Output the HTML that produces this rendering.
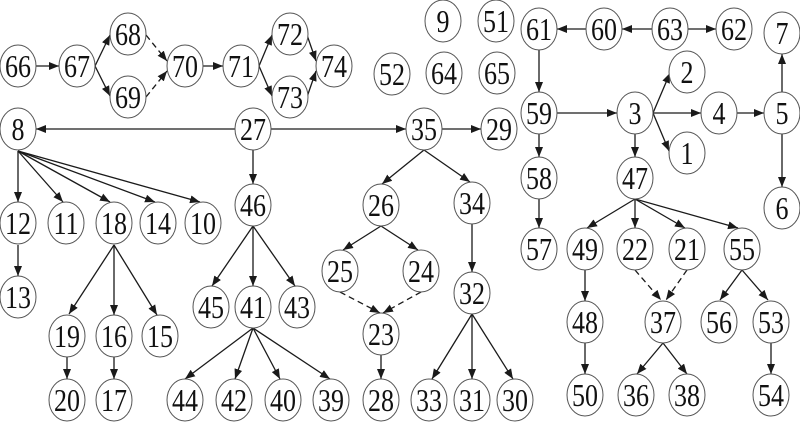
<!DOCTYPE html>
<html><head><meta charset="utf-8"><style>
html,body{margin:0;padding:0;background:#fff;}
svg{display:block;}
text{font-family:"Liberation Serif","Times New Roman",serif;font-size:26px;fill:#111;text-anchor:middle;}
ellipse{fill:#fff;stroke:#555;stroke-width:1;}
line{stroke:#1a1a1a;stroke-width:1.3;}
line.d{stroke-dasharray:6,4;}
</style></head><body>
<svg width="800" height="431" viewBox="0 0 800 431" xmlns="http://www.w3.org/2000/svg">
<defs>
<marker id="a" markerUnits="userSpaceOnUse" markerWidth="10" markerHeight="8" refX="10" refY="4" orient="auto">
<path d="M0,0 L10,4 L0,8 z" fill="#1a1a1a"/>
</marker>
</defs>
<g marker-end="url(#a)">
<line x1="36" y1="66" x2="59" y2="66"/>
<line x1="95" y1="66" x2="110" y2="35"/>
<line x1="95" y1="66" x2="110" y2="96"/>
<line class="d" x1="146" y1="35" x2="167" y2="61"/>
<line class="d" x1="146" y1="97" x2="167" y2="71"/>
<line x1="203" y1="66" x2="223" y2="66"/>
<line x1="259" y1="66" x2="272" y2="35"/>
<line x1="259" y1="66" x2="272" y2="96"/>
<line x1="307" y1="35" x2="316" y2="61"/>
<line x1="307" y1="97" x2="316" y2="71"/>
<line x1="235" y1="129" x2="36" y2="129"/>
<line x1="271" y1="129" x2="406" y2="129"/>
<line x1="253" y1="150" x2="253" y2="184"/>
<line x1="442" y1="129" x2="481" y2="129"/>
<line x1="424" y1="150" x2="382" y2="184"/>
<line x1="424" y1="150" x2="470" y2="182"/>
<line x1="18" y1="151" x2="18" y2="202"/>
<line x1="18" y1="151" x2="63" y2="202"/>
<line x1="18" y1="151" x2="110" y2="202"/>
<line x1="18" y1="151" x2="155" y2="202"/>
<line x1="18" y1="151" x2="200" y2="202"/>
<line x1="18" y1="245" x2="18" y2="276"/>
<line x1="114" y1="245" x2="69" y2="314"/>
<line x1="114" y1="245" x2="114" y2="315"/>
<line x1="114" y1="245" x2="157" y2="315"/>
<line x1="67" y1="357" x2="67" y2="379"/>
<line x1="114" y1="357" x2="114" y2="379"/>
<line x1="253" y1="226" x2="212" y2="286"/>
<line x1="253" y1="226" x2="253" y2="286"/>
<line x1="253" y1="226" x2="295" y2="286"/>
<line x1="253" y1="328" x2="185" y2="379"/>
<line x1="253" y1="328" x2="235" y2="379"/>
<line x1="253" y1="328" x2="280" y2="379"/>
<line x1="253" y1="328" x2="330" y2="379"/>
<line x1="381" y1="226" x2="343" y2="250"/>
<line x1="381" y1="226" x2="418" y2="250"/>
<line class="d" x1="340" y1="292" x2="380" y2="313"/>
<line class="d" x1="421" y1="292" x2="383" y2="313"/>
<line x1="381" y1="355" x2="381" y2="379"/>
<line x1="472" y1="224" x2="472" y2="272"/>
<line x1="472" y1="314" x2="432" y2="379"/>
<line x1="472" y1="314" x2="472" y2="379"/>
<line x1="472" y1="314" x2="513" y2="379"/>
<line x1="652" y1="29" x2="622" y2="29"/>
<line x1="586" y1="29" x2="557" y2="29"/>
<line x1="688" y1="29" x2="716" y2="29"/>
<line x1="539" y1="50" x2="539" y2="92"/>
<line x1="557" y1="113" x2="617" y2="113"/>
<line x1="539" y1="134" x2="539" y2="157"/>
<line x1="539" y1="199" x2="539" y2="228"/>
<line x1="653" y1="113" x2="670" y2="73"/>
<line x1="653" y1="113" x2="701" y2="113"/>
<line x1="653" y1="113" x2="669" y2="151"/>
<line x1="737" y1="113" x2="764" y2="113"/>
<line x1="782" y1="92" x2="782" y2="54"/>
<line x1="782" y1="134" x2="782" y2="187"/>
<line x1="635" y1="134" x2="635" y2="157"/>
<line x1="635" y1="199" x2="587" y2="228"/>
<line x1="635" y1="199" x2="635" y2="228"/>
<line x1="635" y1="199" x2="685" y2="228"/>
<line x1="635" y1="199" x2="738" y2="228"/>
<line x1="585" y1="270" x2="585" y2="301"/>
<line class="d" x1="635" y1="270" x2="661" y2="300"/>
<line class="d" x1="687" y1="270" x2="666" y2="300"/>
<line x1="663" y1="343" x2="637" y2="374"/>
<line x1="663" y1="343" x2="687" y2="374"/>
<line x1="585" y1="343" x2="585" y2="374"/>
<line x1="742" y1="270" x2="720" y2="300"/>
<line x1="742" y1="270" x2="768" y2="300"/>
<line x1="771" y1="343" x2="771" y2="374"/>
</g>

<g font-family="'Liberation Serif', 'Times New Roman', serif" font-size="26">
<ellipse cx="18" cy="66" rx="18" ry="21"/><text transform="translate(18,77) scale(1,1.2)">66</text>
<ellipse cx="77" cy="66" rx="18" ry="21"/><text transform="translate(77,77) scale(1,1.2)">67</text>
<ellipse cx="128" cy="34" rx="18" ry="21"/><text transform="translate(128,45) scale(1,1.2)">68</text>
<ellipse cx="128" cy="97" rx="18" ry="21"/><text transform="translate(128,108) scale(1,1.2)">69</text>
<ellipse cx="185" cy="66" rx="18" ry="21"/><text transform="translate(185,77) scale(1,1.2)">70</text>
<ellipse cx="241" cy="66" rx="18" ry="21"/><text transform="translate(241,77) scale(1,1.2)">71</text>
<ellipse cx="290" cy="34" rx="18" ry="21"/><text transform="translate(290,45) scale(1,1.2)">72</text>
<ellipse cx="290" cy="97" rx="18" ry="21"/><text transform="translate(290,108) scale(1,1.2)">73</text>
<ellipse cx="334" cy="66" rx="18" ry="21"/><text transform="translate(334,77) scale(1,1.2)">74</text>

<ellipse cx="443" cy="21" rx="18" ry="21"/><text transform="translate(443,32) scale(1,1.2)">9</text>
<ellipse cx="496" cy="21" rx="18" ry="21"/><text transform="translate(496,32) scale(1,1.2)">51</text>
<ellipse cx="392" cy="74" rx="18" ry="21"/><text transform="translate(392,85) scale(1,1.2)">52</text>
<ellipse cx="444" cy="73" rx="18" ry="21"/><text transform="translate(444,84) scale(1,1.2)">64</text>
<ellipse cx="497" cy="73" rx="18" ry="21"/><text transform="translate(497,84) scale(1,1.2)">65</text>

<ellipse cx="539" cy="29" rx="18" ry="21"/><text transform="translate(539,40) scale(1,1.2)">61</text>
<ellipse cx="604" cy="29" rx="18" ry="21"/><text transform="translate(604,40) scale(1,1.2)">60</text>
<ellipse cx="670" cy="29" rx="18" ry="21"/><text transform="translate(670,40) scale(1,1.2)">63</text>
<ellipse cx="734" cy="29" rx="18" ry="21"/><text transform="translate(734,40) scale(1,1.2)">62</text>
<ellipse cx="782" cy="33" rx="18" ry="21"/><text transform="translate(782,44) scale(1,1.2)">7</text>

<ellipse cx="687" cy="72" rx="18" ry="21"/><text transform="translate(687,83) scale(1,1.2)">2</text>
<ellipse cx="539" cy="113" rx="18" ry="21"/><text transform="translate(539,124) scale(1,1.2)">59</text>
<ellipse cx="635" cy="113" rx="18" ry="21"/><text transform="translate(635,124) scale(1,1.2)">3</text>
<ellipse cx="719" cy="113" rx="18" ry="21"/><text transform="translate(719,124) scale(1,1.2)">4</text>
<ellipse cx="782" cy="113" rx="18" ry="21"/><text transform="translate(782,124) scale(1,1.2)">5</text>
<ellipse cx="687" cy="153" rx="18" ry="21"/><text transform="translate(687,164) scale(1,1.2)">1</text>

<ellipse cx="18" cy="129" rx="18" ry="21"/><text transform="translate(18,140) scale(1,1.2)">8</text>
<ellipse cx="253" cy="129" rx="18" ry="21"/><text transform="translate(253,140) scale(1,1.2)">27</text>
<ellipse cx="424" cy="129" rx="18" ry="21"/><text transform="translate(424,140) scale(1,1.2)">35</text>
<ellipse cx="499" cy="129" rx="18" ry="21"/><text transform="translate(499,140) scale(1,1.2)">29</text>

<ellipse cx="253" cy="205" rx="18" ry="21"/><text transform="translate(253,216) scale(1,1.2)">46</text>
<ellipse cx="381" cy="205" rx="18" ry="21"/><text transform="translate(381,216) scale(1,1.2)">26</text>
<ellipse cx="472" cy="203" rx="18" ry="21"/><text transform="translate(472,214) scale(1,1.2)">34</text>
<ellipse cx="539" cy="178" rx="18" ry="21"/><text transform="translate(539,189) scale(1,1.2)">58</text>
<ellipse cx="635" cy="178" rx="18" ry="21"/><text transform="translate(635,189) scale(1,1.2)">47</text>
<ellipse cx="782" cy="208" rx="18" ry="21"/><text transform="translate(782,219) scale(1,1.2)">6</text>

<ellipse cx="18" cy="223" rx="18" ry="21"/><text transform="translate(18,234) scale(1,1.2)">12</text>
<ellipse cx="66" cy="223" rx="18" ry="21"/><text transform="translate(66,234) scale(1,1.2)">11</text>
<ellipse cx="114" cy="223" rx="18" ry="21"/><text transform="translate(114,234) scale(1,1.2)">18</text>
<ellipse cx="158" cy="223" rx="18" ry="21"/><text transform="translate(158,234) scale(1,1.2)">14</text>
<ellipse cx="203" cy="223" rx="18" ry="21"/><text transform="translate(203,234) scale(1,1.2)">10</text>

<ellipse cx="539" cy="249" rx="18" ry="21"/><text transform="translate(539,260) scale(1,1.2)">57</text>
<ellipse cx="585" cy="249" rx="18" ry="21"/><text transform="translate(585,260) scale(1,1.2)">49</text>
<ellipse cx="635" cy="249" rx="18" ry="21"/><text transform="translate(635,260) scale(1,1.2)">22</text>
<ellipse cx="687" cy="249" rx="18" ry="21"/><text transform="translate(687,260) scale(1,1.2)">21</text>
<ellipse cx="742" cy="249" rx="18" ry="21"/><text transform="translate(742,260) scale(1,1.2)">55</text>

<ellipse cx="340" cy="271" rx="18" ry="21"/><text transform="translate(340,282) scale(1,1.2)">25</text>
<ellipse cx="421" cy="271" rx="18" ry="21"/><text transform="translate(421,282) scale(1,1.2)">24</text>
<ellipse cx="18" cy="297" rx="18" ry="21"/><text transform="translate(18,308) scale(1,1.2)">13</text>

<ellipse cx="211" cy="307" rx="18" ry="21"/><text transform="translate(211,318) scale(1,1.2)">45</text>
<ellipse cx="253" cy="307" rx="18" ry="21"/><text transform="translate(253,318) scale(1,1.2)">41</text>
<ellipse cx="297" cy="307" rx="18" ry="21"/><text transform="translate(297,318) scale(1,1.2)">43</text>
<ellipse cx="472" cy="293" rx="18" ry="21"/><text transform="translate(472,304) scale(1,1.2)">32</text>
<ellipse cx="381" cy="334" rx="18" ry="21"/><text transform="translate(381,345) scale(1,1.2)">23</text>

<ellipse cx="585" cy="322" rx="18" ry="21"/><text transform="translate(585,333) scale(1,1.2)">48</text>
<ellipse cx="663" cy="322" rx="18" ry="21"/><text transform="translate(663,333) scale(1,1.2)">37</text>
<ellipse cx="719" cy="322" rx="18" ry="21"/><text transform="translate(719,333) scale(1,1.2)">56</text>
<ellipse cx="771" cy="322" rx="18" ry="21"/><text transform="translate(771,333) scale(1,1.2)">53</text>

<ellipse cx="67" cy="336" rx="18" ry="21"/><text transform="translate(67,347) scale(1,1.2)">19</text>
<ellipse cx="114" cy="336" rx="18" ry="21"/><text transform="translate(114,347) scale(1,1.2)">16</text>
<ellipse cx="160" cy="336" rx="18" ry="21"/><text transform="translate(160,347) scale(1,1.2)">15</text>

<ellipse cx="67" cy="400" rx="18" ry="21"/><text transform="translate(67,411) scale(1,1.2)">20</text>
<ellipse cx="114" cy="400" rx="18" ry="21"/><text transform="translate(114,411) scale(1,1.2)">17</text>
<ellipse cx="185" cy="400" rx="18" ry="21"/><text transform="translate(185,411) scale(1,1.2)">44</text>
<ellipse cx="234" cy="400" rx="18" ry="21"/><text transform="translate(234,411) scale(1,1.2)">42</text>
<ellipse cx="283" cy="400" rx="18" ry="21"/><text transform="translate(283,411) scale(1,1.2)">40</text>
<ellipse cx="331" cy="400" rx="18" ry="21"/><text transform="translate(331,411) scale(1,1.2)">39</text>
<ellipse cx="381" cy="400" rx="18" ry="21"/><text transform="translate(381,411) scale(1,1.2)">28</text>
<ellipse cx="429" cy="400" rx="18" ry="21"/><text transform="translate(429,411) scale(1,1.2)">33</text>
<ellipse cx="472" cy="400" rx="18" ry="21"/><text transform="translate(472,411) scale(1,1.2)">31</text>
<ellipse cx="515" cy="400" rx="18" ry="21"/><text transform="translate(515,411) scale(1,1.2)">30</text>

<ellipse cx="585" cy="395" rx="18" ry="21"/><text transform="translate(585,406) scale(1,1.2)">50</text>
<ellipse cx="636" cy="395" rx="18" ry="21"/><text transform="translate(636,406) scale(1,1.2)">36</text>
<ellipse cx="687" cy="395" rx="18" ry="21"/><text transform="translate(687,406) scale(1,1.2)">38</text>
<ellipse cx="771" cy="395" rx="18" ry="21"/><text transform="translate(771,406) scale(1,1.2)">54</text>
</g>
</svg>
</body></html>
